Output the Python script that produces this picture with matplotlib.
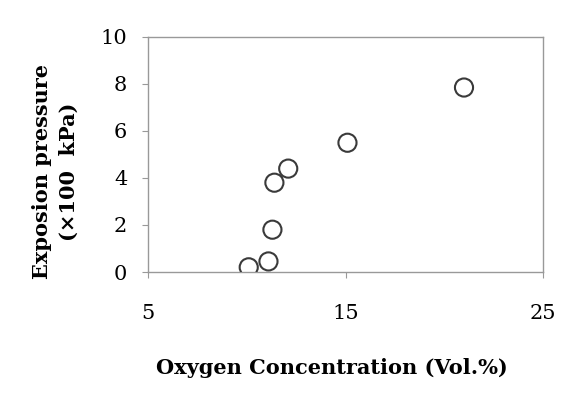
import matplotlib
matplotlib.use("Agg")
import matplotlib.pyplot as plt

oxygen = [10.1, 11.1, 11.3, 11.4, 12.1, 15.1, 21.0]
pressure = [0.2, 0.45, 1.8, 3.8, 4.4, 5.5, 7.85]
x_ticks = [5, 15, 25]
y_ticks = [0, 2, 4, 6, 8, 10]

plt.rcParams['font.family'] = ['DejaVu Serif']

fig = plt.figure(figsize=(5.87, 4.01), dpi=100)
ax = fig.add_axes([148/587, 129/401, 395/587, 235/401])
ax.scatter(oxygen, pressure, s=170, facecolors='none', edgecolors='#3a3a3a',
           linewidths=1.5, zorder=3)
ax.set_xlim(5, 25)
ax.set_ylim(0, 10)
ax.set_xticks(x_ticks)
ax.set_yticks(y_ticks)
for s in ax.spines.values():
    s.set_color('#999999')
    s.set_linewidth(1.0)
ax.tick_params(axis='x', direction='out', length=4, color='#999999', pad=19, labelsize=15)
ax.tick_params(axis='y', direction='out', length=4, color='#999999', pad=11, labelsize=15)
ax.set_xlabel('Oxygen Concentration (Vol.%)', fontsize=15, fontweight='bold')
ax.xaxis.set_label_coords(0.466, -0.365)
ax.set_ylabel('Exposion pressure\n(×100  kPa)', fontsize=15, fontweight='bold',
              linespacing=1.45)
ax.yaxis.set_label_coords(-0.175, 0.426)
fig.savefig('out.png', dpi=100)
